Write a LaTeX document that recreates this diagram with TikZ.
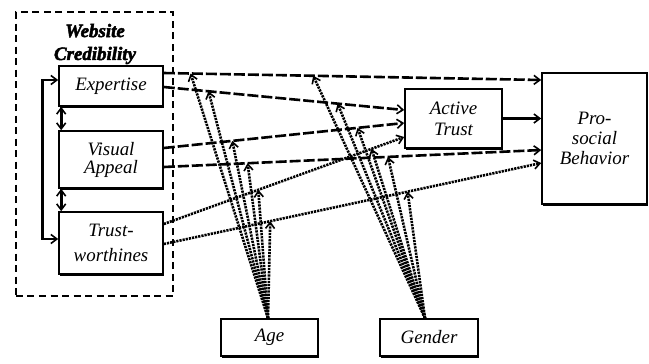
\documentclass[tikz,border=0pt]{standalone}
\usepackage{fontspec}
\setmainfont{Liberation Serif}
\newfontfamily\titlefont[BoldItalicFeatures={FakeBold=2.5}]{Liberation Serif}
\usetikzlibrary{arrows.meta,shadows,calc}

\begin{document}
\begin{tikzpicture}[x=1bp,y=-1bp,
  box/.style={draw, line width=1.6bp, fill=white, align=center, inner sep=0pt,
    font=\itshape\fontsize{19}{20}\selectfont,
    drop shadow={shadow xshift=0.8bp, shadow yshift=-2.4bp, fill=black, opacity=1}},
  barb/.tip={Straight Barb[length=6bp,width=9bp,line width=1.6bp]},
  tip/.style={-barb},
  dashpath/.style={tip, line width=2.6bp, dash pattern=on 11bp off 3bp},
  dotpath/.style={tip, line width=2.6bp, dash pattern=on 2.2bp off 1bp},
  modpath/.style={tip, line width=2.6bp, dash pattern=on 2.2bp off 1bp},
  twoway/.style={barb-barb, line width=2.6bp}
]
\useasboundingbox (0,0) rectangle (649,363);

% construct group
\node[draw, line width=2.8bp, dash pattern=on 7bp off 4.5bp,
      minimum width=157bp, minimum height=284bp, inner sep=0pt] (grp) at (94.5,154) {};
\node[font=\titlefont\bfseries\itshape\fontsize{19}{23}\selectfont, align=center] (title) at (95,44) {Website\\Credibility};

% boxes
\node[box, minimum width=104bp, minimum height=40bp] (exp) at (111,86) {Expertise};
\node[box, minimum width=104bp, minimum height=57bp, font=\itshape\fontsize{19}{18}\selectfont] (vis) at (111,159.5) {Visual\\Appeal};
\node[box, minimum width=104bp, minimum height=62bp, font=\itshape\fontsize{19}{25}\selectfont] (tru) at (111,243) {Trust-\\worthines};
\node[box, minimum width=97bp, minimum height=59bp, font=\itshape\fontsize{19}{21}\selectfont] (act) at (453.5,118.5) {Active\\Trust};
\node[box, minimum width=105bp, minimum height=131bp] (pro) at (594.5,138.5) {Pro-\\social\\Behavior};
\node[box, minimum width=97bp, minimum height=37bp] (age) at (269.5,337.5) {Age};
\node[box, minimum width=98bp, minimum height=37bp] (gen) at (429,337.5) {Gender};

% correlations among the credibility facets
\draw[twoway] ([yshift=6bp]exp.west) -- ++(-16,0) |- ([yshift=4bp]tru.west);
\draw[twoway] ([xshift=3bp]exp.south west) -- ([xshift=3bp]vis.north west);
\draw[twoway] ([xshift=3bp]vis.south west) -- ([xshift=3bp]tru.north west);

% direct paths
\draw[dashpath] ([yshift=13bp]exp.east) -- ([yshift=58.5bp]pro.west)
   coordinate[pos=0.071] (a1) coordinate[pos=0.396] (g1);
\draw[dashpath] ([yshift=-1bp]exp.east) -- ([yshift=8.5bp]act.west)
   coordinate[pos=0.186] (a2) coordinate[pos=0.723] (g2);
\draw[dashpath] ([yshift=11.5bp]vis.east) -- ([yshift=-4.5bp]act.west)
   coordinate[pos=0.285] (a3) coordinate[pos=0.806] (g3);
\draw[dashpath] ([yshift=-7.5bp]vis.east) -- ([yshift=-11.5bp]pro.west)
   coordinate[pos=0.222] (a4) coordinate[pos=0.594] (g4);
\draw[dotpath] ([yshift=19bp]tru.east) -- ([yshift=-18.5bp]act.west)
   coordinate[pos=0.393] (a5) coordinate[pos=0.864] (g5);
\draw[dotpath] ([yshift=-1bp]tru.east) -- ([yshift=-24.5bp]pro.west)
   coordinate[pos=0.282] (a6) coordinate[pos=0.646] (g6);
\draw[tip, line width=3bp] (act.east) -- (act.east -| pro.west);

% moderating effects of age and gender
\foreach \t in {a1,a2,a3,a4,a5,a6}
  \draw[modpath] ([xshift=-1.5bp]age.north) -- (\t);
\foreach \t in {g1,g2,g3,g4,g5,g6}
  \draw[modpath] ([xshift=-4bp]gen.north) -- (\t);
\end{tikzpicture}
\end{document}
